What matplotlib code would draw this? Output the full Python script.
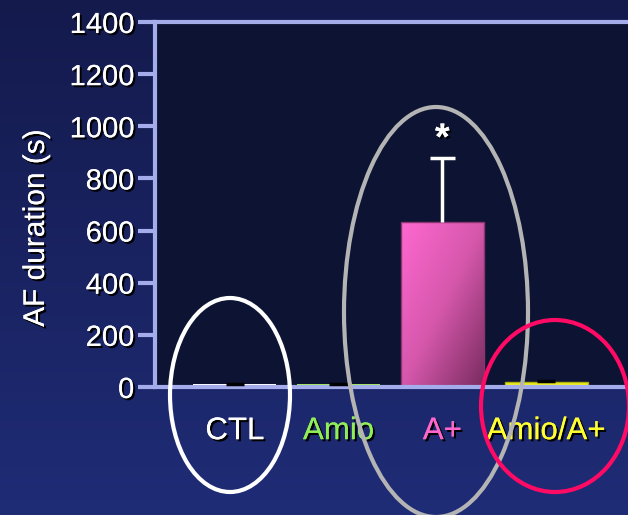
import numpy as np
import matplotlib.pyplot as plt
import matplotlib.patches as mpatches
import matplotlib.patheffects as pe
from matplotlib.colors import LinearSegmentedColormap

groups = ['CTL', 'Amio', 'A+', 'Amio/A+']
af_mean = [10, 10, 633, 18]
af_err = [2, 2, 245, 5]
bar_colors = ['white', '#9ee85a', '#e060b8', '#f0f020']
label_colors = ['white', '#90ee58', '#ff66cc', '#ffff30']
err_colors = ['black', 'black', 'white', 'black']
yticks = [0, 200, 400, 600, 800, 1000, 1200, 1400]

plt.rcParams['font.family'] = ['Liberation Sans', 'DejaVu Sans']
axis_col = '#a4acec'
shadow = [pe.withSimplePatchShadow(offset=(1.5, -1.5), shadow_rgbFace='black', alpha=1.0), pe.Normal()]

fig = plt.figure(figsize=(6.28, 5.15), dpi=100)

# background gradient
bg = fig.add_axes([0, 0, 1, 1], zorder=-10)
grad = np.linspace(0, 1, 256).reshape(-1, 1)
bg_cmap = LinearSegmentedColormap.from_list('bg', ['#141a4c', '#1f2c76'])
bg.imshow(grad, aspect='auto', cmap=bg_cmap, extent=[0, 1, 0, 1], origin='upper')
bg.axis('off')

ax = fig.add_axes([155/628, 128/515, 473/628, 365/515])
ax.set_facecolor('#0d1333')
x = np.arange(len(groups))
bars = ax.bar(x, af_mean, width=0.8, color=bar_colors, zorder=2)

# gradient fill on the A+ bar
pink = LinearSegmentedColormap.from_list('pink', ['#ff68d0', '#d658ac', '#7a2c60'])
b = bars[2]
b.set_facecolor('none')
b.set_edgecolor('#8a3570')
xx, yy = np.meshgrid(np.linspace(0, 1, 100), np.linspace(0, 1, 100))
g = (xx + yy) / 2
im = ax.imshow(g, cmap=pink, aspect='auto', origin='upper', zorder=1.9,
               extent=[b.get_x(), b.get_x() + b.get_width(), 0, b.get_height()])
im.set_clip_path(b)
bars[3].set_edgecolor('#b0b010')

# upper-only error bars
for i in range(len(groups)):
    top = af_mean[i] + af_err[i]
    cap = 0.12 if i == 2 else 0.09
    ax.vlines(x[i], af_mean[i], top, color=err_colors[i], linewidth=2.5, zorder=3)
    ax.hlines(top, x[i] - cap, x[i] + cap, color=err_colors[i], linewidth=2.5, zorder=3)

ax.text(x[2], 950, '*', color='white', fontsize=27,
        fontweight='bold', ha='center', va='center', path_effects=shadow)

ax.set_xlim(-0.77, 3.79)
ax.set_ylim(0, 1400)
ax.set_yticks(yticks)
ax.set_yticklabels([str(v) for v in yticks])
ax.set_xticks(x)
ax.set_xticklabels(groups)
for lbl, c in zip(ax.get_xticklabels(), label_colors):
    lbl.set_color(c)
    lbl.set_fontsize(22.5)
for lbl in ax.get_yticklabels():
    lbl.set_color('white')
    lbl.set_fontsize(21)
for lbl in ax.get_xticklabels() + ax.get_yticklabels():
    lbl.set_path_effects(shadow)
ax.tick_params(axis='y', length=12, width=3, color=axis_col, direction='out', pad=3)
ax.tick_params(axis='x', length=0, pad=21)
for s in ['left', 'bottom', 'top']:
    ax.spines[s].set_color(axis_col)
    ax.spines[s].set_linewidth(3)
ax.spines['right'].set_visible(False)
ax.set_ylabel('AF duration (s)', color='white', fontsize=21.5, path_effects=shadow)
ax.yaxis.set_label_coords(-0.222, 0.436)

# highlight ellipses (figure pixel coordinates, y from top)
def ell(cx, cy, w, h, col):
    e = mpatches.Ellipse((cx / 628, 1 - cy / 515), w / 628, h / 515, fill=False,
                         edgecolor=col, linewidth=3, transform=fig.transFigure, zorder=5)
    fig.add_artist(e)

ell(230, 395, 120, 194, 'white')
ell(436, 312, 184, 410, '#b4b4b4')
ell(555, 406, 148, 172, '#ff0a64')

plt.savefig('out.png', dpi=100)
